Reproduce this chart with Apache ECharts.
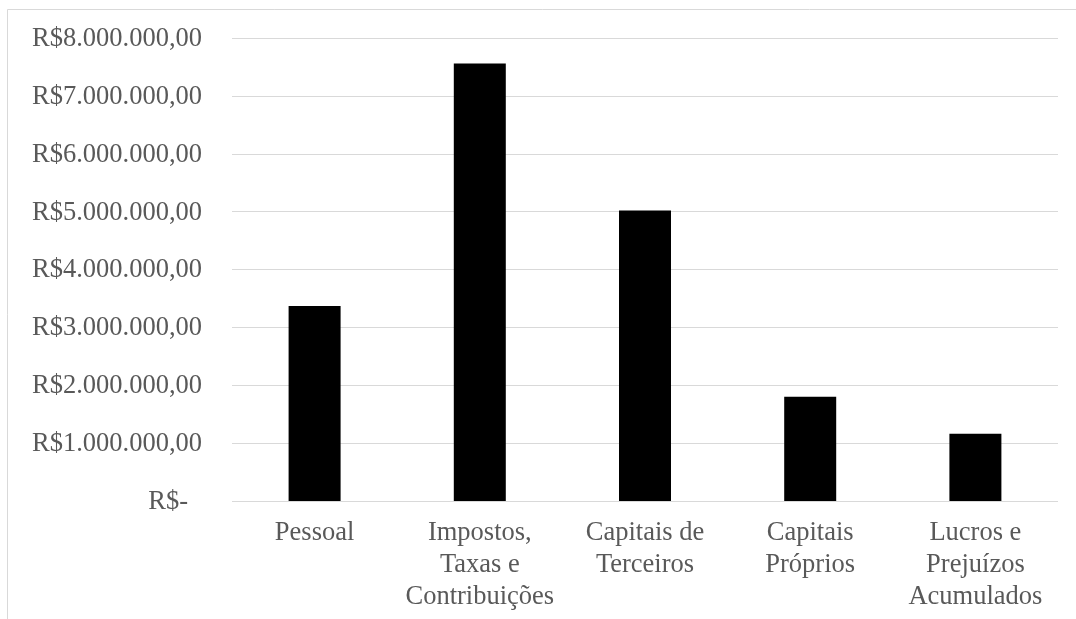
<!DOCTYPE html>
<html>
<head>
<meta charset="utf-8">
<style>
  html, body { margin: 0; padding: 0; background: #ffffff; }
  #chart { width: 1076px; height: 619px; }
</style>
<script src="https://cdn.jsdelivr.net/npm/echarts@6/dist/echarts.min.js"></script>
</head>
<body>
<div id="chart"></div>
<script>
// Distribuição do valor adicionado (R$)
const categories = [
  'Pessoal',
  'Impostos,\nTaxas e\nContribuições',
  'Capitais de\nTerceiros',
  'Capitais\nPróprios',
  'Lucros e\nPrejuízos\nAcumulados'
];
const values = [3370000, 7560000, 5020000, 1800000, 1160000];
const yTicks = { min: 0, max: 8000000, step: 1000000 };

function brl(v) {
  if (v === 0) return '{z|R$-}';
  const s = String(Math.round(v)).replace(/\B(?=(\d{3})+(?!\d))/g, '.');
  return '{n|R$' + s + ',00}';
}

const font = '"Liberation Serif", "Times New Roman", serif';
const labelColor = '#595959';

const chart = echarts.init(document.getElementById('chart'), null, { renderer: 'canvas' });
chart.setOption({
  animation: false,
  backgroundColor: '#ffffff',
  graphic: [{
    type: 'rect',
    shape: { x: 7.5, y: 9.5, width: 1200, height: 800 },
    style: { fill: 'none', stroke: '#d9d9d9', lineWidth: 1 },
    silent: true
  }],
  grid: { left: 232, right: 18, top: 38, bottom: 118 },
  xAxis: {
    type: 'category',
    data: categories,
    axisLine: { show: false },
    axisTick: { show: false },
    axisLabel: {
      color: labelColor,
      fontFamily: font,
      fontSize: 26.5,
      lineHeight: 32,
      margin: 16,
      interval: 0
    }
  },
  yAxis: {
    type: 'value',
    min: yTicks.min,
    max: yTicks.max,
    interval: yTicks.step,
    axisLine: { show: false },
    axisTick: { show: false },
    splitLine: { lineStyle: { color: '#d9d9d9', width: 1 } },
    axisLabel: {
      color: labelColor,
      fontFamily: font,
      fontSize: 26.5,
      margin: 30,
      formatter: brl,
      rich: {
        n: { color: labelColor, fontFamily: font, fontSize: 26.5, padding: [2, 0, 0, 0] },
        z: { color: labelColor, fontFamily: font, fontSize: 26.5, padding: [2, 14, 0, 0] }
      }
    }
  },
  series: [{
    type: 'bar',
    data: values,
    barWidth: 52,
    itemStyle: { color: '#000000' }
  }]
});
</script>
</body>
</html>
